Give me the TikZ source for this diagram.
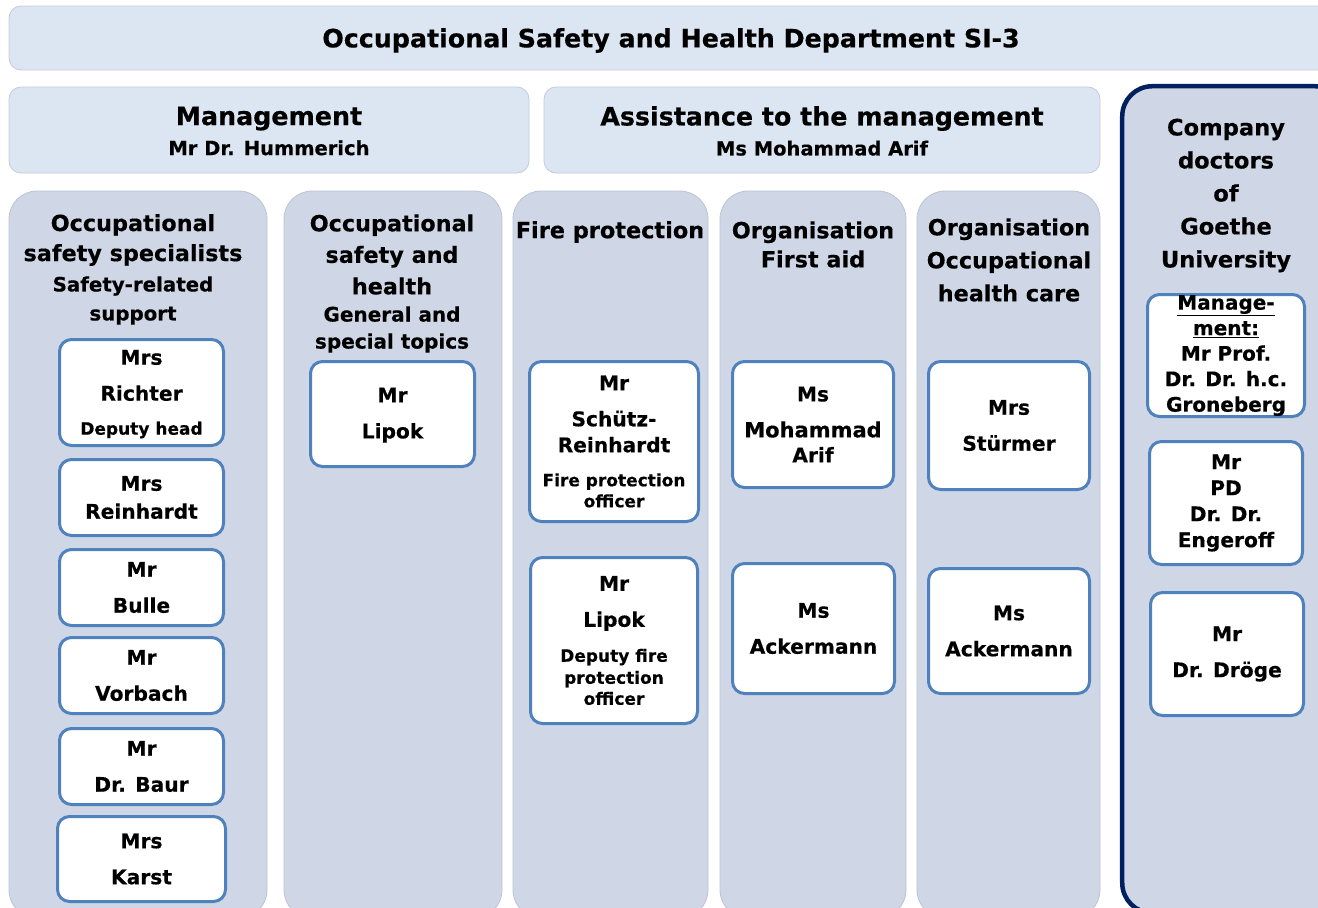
\documentclass[tikz,border=0pt]{standalone}
\usepackage{fontspec}
\setmainfont{DejaVu Sans}[BoldFeatures={FakeBold=0.4}]
\definecolor{barfill}{RGB}{220,230,242}
\definecolor{barline}{RGB}{196,204,216}
\definecolor{colfill}{RGB}{207,215,231}
\definecolor{colline}{RGB}{188,196,212}
\definecolor{boxline}{RGB}{79,129,189}
\definecolor{navyline}{RGB}{0,32,96}
\newcommand\ftitle{\bfseries\fontsize{25.3}{32}\selectfont}
\newcommand\fsubt{\bfseries\fontsize{19.5}{24}\selectfont}
\newcommand\fhd[2]{\bfseries\fontsize{#1}{#2}\selectfont}
\newcommand\fname{\bfseries\fontsize{20.2}{26}\selectfont}
\newcommand\frole{\fontsize{17}{21}\selectfont}
\tikzset{
  bar/.style={draw=barline, line width=0.8pt, fill=barfill, rounded corners=12pt,
    align=center, inner sep=0pt, font=\ftitle},
  column/.style={draw=colline, line width=0.8pt, fill=colfill, rounded corners=28pt, inner sep=0pt},
  doctors/.style={draw=navyline, line width=4.5pt, fill=colfill, rounded corners=30pt, inner sep=0pt},
  pbox/.style={draw=boxline, line width=3pt, fill=white, rounded corners=12pt,
    align=center, inner sep=0pt, font=\fname},
  hdr/.style={align=center, inner sep=0pt},
}
\begin{document}
\begin{tikzpicture}[x=1pt,y=-1pt]
\useasboundingbox (0,0) rectangle (1318,908);
\clip (0,0) rectangle (1318,908);
% top bars
\path[bar] (9,6) rectangle (1333,70);
\node[font=\ftitle, inner sep=0pt] (title) at (671,40.5)
  {Occupational Safety and Health Department SI-3};
\node[bar, minimum width=520pt, minimum height=86pt] (mgmt) at (269,130) {};
\node[bar, minimum width=556pt, minimum height=86pt] (assist) at (822,130) {};
\node[align=center, inner sep=0pt, font=\ftitle] (mgmttext) at (269,131)
  {Management\\[-2pt]{\fsubt Mr Dr. Hummerich}};
\node[align=center, inner sep=0pt, font=\ftitle] (assisttext) at (822,131)
  {Assistance to the management\\[-2pt]{\fsubt Ms Mohammad Arif}};
% columns
\node[column, minimum width=258pt, minimum height=727pt] (col1) at (138,554.5) {};
\node[column, minimum width=218pt, minimum height=727pt] (col2) at (393,554.5) {};
\node[column, minimum width=195pt, minimum height=727pt] (col3) at (610.5,554.5) {};
\node[column, minimum width=186pt, minimum height=727pt] (col4) at (813,554.5) {};
\node[column, minimum width=183pt, minimum height=727pt] (col5) at (1008.5,554.5) {};
\node[doctors, minimum width=222.75pt, minimum height=826.75pt] (col6) at (1233.6,499.6) {};
% headers
\node[hdr, font=\fhd{22.3}{30}] (h1) at (133,240) {Occupational\\safety specialists};
\node[hdr, font=\fhd{19.8}{29}] (h1s) at (133,300.5) {Safety-related\\support};
\node[hdr, font=\fhd{22.3}{31.5}] (h2) at (392,254.5) {Occupational\\safety and\\health};
\node[hdr, font=\fhd{20}{27}] (h2s) at (392,329.5) {General and\\special topics};
\node[hdr, font=\fhd{22.4}{29}] (h3) at (610,232) {Fire protection};
\node[hdr, font=\fhd{22.3}{29}] (h4) at (813,244.5) {Organisation\\First aid};
\node[hdr, font=\fhd{22.3}{33}] (h5) at (1009,260) {Organisation\\Occupational\\health care};
\node[hdr, font=\fhd{22.6}{33}] (h6) at (1226,195.5) {Company\\doctors\\of\\Goethe\\University};
% column 1
\node[pbox, minimum width=164pt, minimum height=106pt] (richter) at (141.5,392.5)
  {\rule{0pt}{18pt}Mrs\\[10pt]Richter\\[8pt]{\frole Deputy head}};
\node[pbox, minimum width=164pt, minimum height=76pt] (reinhardt) at (141.5,497.5)
  {Mrs\\[2pt]Reinhardt};
\node[pbox, minimum width=164pt, minimum height=76pt] (bulle) at (141.5,587.5)
  {Mr\\[10pt]Bulle};
\node[pbox, minimum width=164pt, minimum height=76pt] (vorbach) at (141.5,675.5)
  {Mr\\[10pt]Vorbach};
\node[pbox, minimum width=164pt, minimum height=76pt] (baur) at (141.5,766.5)
  {Mr\\[10pt]Dr. Baur};
\node[pbox, minimum width=168pt, minimum height=85pt] (karst) at (141.5,859)
  {Mrs\\[10pt]Karst};
% column 2
\node[pbox, minimum width=164pt, minimum height=105pt] (lipok) at (392.5,414)
  {\rule{0pt}{17pt}Mr\\[10pt]Lipok};
% column 3
\node[pbox, minimum width=169pt, minimum height=160pt] (schuetz) at (614,441.5)
  {Mr\\[10pt]Schütz-\\Reinhardt\\[8pt]{\frole Fire protection}\\[-5pt]{\frole officer}};
\node[pbox, minimum width=167pt, minimum height=166pt] (lipokdep) at (614,640.5)
  {Mr\\[10pt]Lipok\\[9pt]{\frole Deputy fire}\\[-4pt]{\frole protection}\\[-5pt]{\frole officer}};
% column 4
\node[pbox, minimum width=161pt, minimum height=126pt] (arif) at (813,424.5)
  {Ms\\[10pt]{\fontsize{21}{26}\selectfont Mohammad}\\[-1pt]Arif};
\node[pbox, minimum width=162pt, minimum height=130pt] (acker1) at (813.5,628.5)
  {Ms\\[10pt]Ackermann};
% column 5
\node[pbox, minimum width=161pt, minimum height=128pt] (stuermer) at (1009,425.5)
  {Mrs\\[10pt]Stürmer};
\node[pbox, minimum width=161pt, minimum height=125pt] (acker2) at (1009,631)
  {Ms\\[10pt]Ackermann};
% company doctors
\node[pbox, minimum width=157pt, minimum height=122pt, font=\bfseries\fontsize{20}{26}\selectfont] (groneberg) at (1226,355.5)
  {\underline{Manage-}\\[-0.5pt]\underline{ment:}\\[-0.5pt]Mr Prof.\\[-0.5pt]Dr. Dr. h.c.\\[-0.5pt]Groneberg};
\node[pbox, minimum width=153pt, minimum height=123pt] (engeroff) at (1226,503)
  {Mr\\PD\\Dr. Dr.\\Engeroff};
\node[pbox, minimum width=153pt, minimum height=123pt] (droege) at (1227,654)
  {Mr\\[10pt]Dr. Dröge};
\end{tikzpicture}
\end{document}
